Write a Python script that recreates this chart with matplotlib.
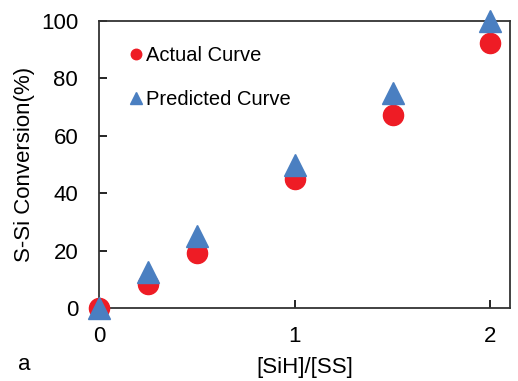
import matplotlib
matplotlib.use("Agg")
import matplotlib.pyplot as plt

ratio = [0, 0.25, 0.5, 1, 1.5, 2]
actual = [0, 8.5, 19, 45, 67.2, 92.5]
predicted = [0, 12.5, 25, 50, 75, 100]
xticks = [0, 1, 2]
yticks = [0, 20, 40, 60, 80, 100]

plt.rcParams['font.family'] = ['Liberation Sans', 'DejaVu Sans']

fig = plt.figure(figsize=(5.18, 3.81), dpi=100)
ax = fig.add_axes([99/518, 1-308/381, (510-99)/518, (308-21)/381])

ax.plot(ratio, actual, 'o', color='#ee1c25', markersize=14.5, clip_on=False,
        label='Actual Curve', zorder=3)
ax.plot(ratio, predicted, '^', color='#4a7fc1', markersize=16, clip_on=False,
        label='Predicted Curve', zorder=4)

ax.set_xlim(0, 2.1)
ax.set_ylim(0, 100)
ax.set_xticks(xticks)
ax.set_yticks(yticks)
ax.tick_params(direction='in', length=6, width=1.2, labelsize=16, pad=13)
ax.tick_params(axis='y', pad=15)
for s in ax.spines.values():
    s.set_linewidth(1.3)
    s.set_color('#333333')

ax.set_xlabel('[SiH]/[SS]', fontsize=16, labelpad=7)
ax.set_ylabel('S-Si Conversion(%)', fontsize=16, labelpad=4)

leg = ax.legend(loc='upper left', bbox_to_anchor=(0.056, 0.94), frameon=False,
                fontsize=14.5, markerscale=0.52, handlelength=0.6, handletextpad=0.2,
                labelspacing=1.25, borderaxespad=0)

fig.text(18/518, 1-365/381, 'a', fontsize=16, ha='left', va='center')

fig.savefig('out.png', dpi=100)
